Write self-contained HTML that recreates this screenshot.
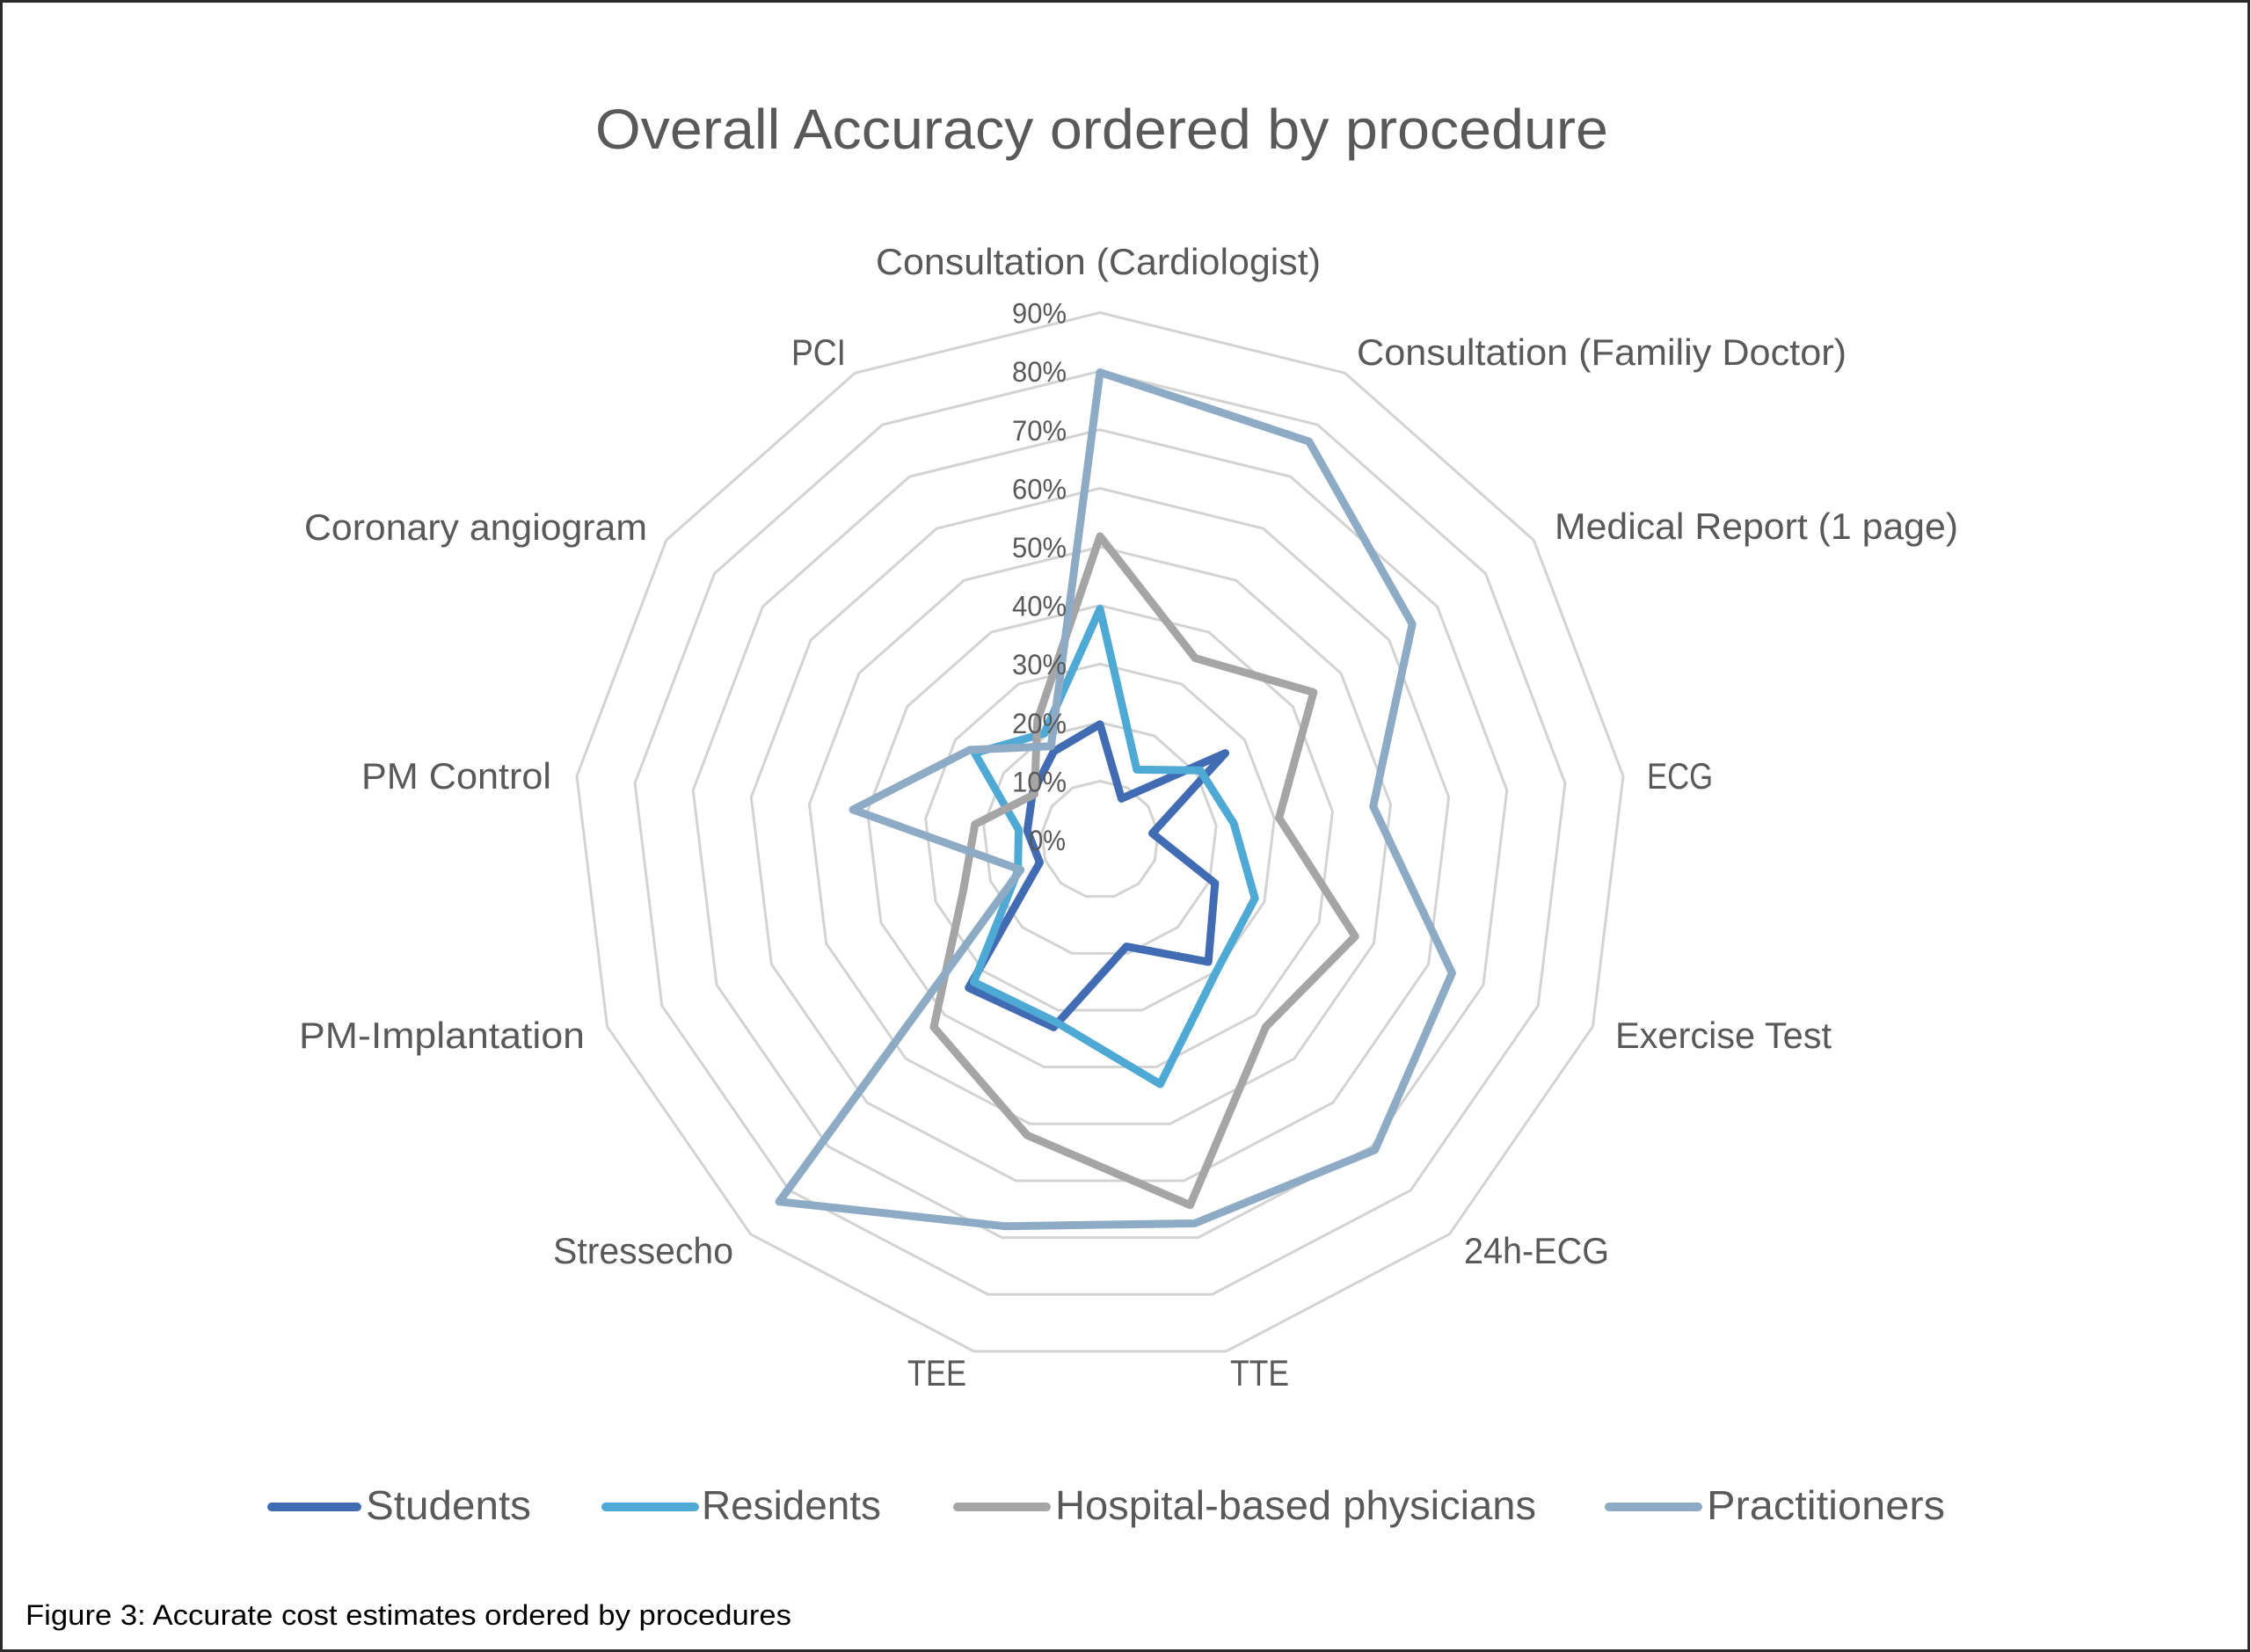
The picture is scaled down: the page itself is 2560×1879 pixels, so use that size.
<!DOCTYPE html>
<html>
<head>
<meta charset="utf-8">
<style>
  html,body{margin:0;padding:0;background:#fff;}
  svg{display:block;}
  text{font-family:"Liberation Sans", Arial, sans-serif;}
</style>
</head>
<body>
<svg width="2560" height="1879" viewBox="0 0 2560 1879" xmlns="http://www.w3.org/2000/svg">
  <rect x="0" y="0" width="2560" height="1879" fill="#ffffff"/>
  <rect x="1.5" y="1.5" width="2556" height="1876" fill="none" stroke="#2b2b2b" stroke-width="3"/>

  <!-- Title -->
  <text x="677" y="169" font-size="64" fill="#595959" textLength="1152" lengthAdjust="spacingAndGlyphs">Overall Accuracy ordered by procedure</text>

  <!-- Rings -->
  <g fill="none" stroke="#d3d3d3" stroke-width="3" stroke-linejoin="miter">
    <polygon transform="translate(1251 955) scale(0.666)" vector-effect="non-scaling-stroke" points="0,-100 46.47,-88.55 82.30,-56.81 99.27,-12.05 93.50,35.46 66.31,74.85 23.93,97.09 -23.93,97.09 -66.31,74.85 -93.50,35.46 -99.27,-12.05 -82.30,-56.81 -46.47,-88.55"/>
    <polygon transform="translate(1251 955) scale(1.332)" vector-effect="non-scaling-stroke" points="0,-100 46.47,-88.55 82.30,-56.81 99.27,-12.05 93.50,35.46 66.31,74.85 23.93,97.09 -23.93,97.09 -66.31,74.85 -93.50,35.46 -99.27,-12.05 -82.30,-56.81 -46.47,-88.55"/>
    <polygon transform="translate(1251 955) scale(1.998)" vector-effect="non-scaling-stroke" points="0,-100 46.47,-88.55 82.30,-56.81 99.27,-12.05 93.50,35.46 66.31,74.85 23.93,97.09 -23.93,97.09 -66.31,74.85 -93.50,35.46 -99.27,-12.05 -82.30,-56.81 -46.47,-88.55"/>
    <polygon transform="translate(1251 955) scale(2.664)" vector-effect="non-scaling-stroke" points="0,-100 46.47,-88.55 82.30,-56.81 99.27,-12.05 93.50,35.46 66.31,74.85 23.93,97.09 -23.93,97.09 -66.31,74.85 -93.50,35.46 -99.27,-12.05 -82.30,-56.81 -46.47,-88.55"/>
    <polygon transform="translate(1251 955) scale(3.33)" vector-effect="non-scaling-stroke" points="0,-100 46.47,-88.55 82.30,-56.81 99.27,-12.05 93.50,35.46 66.31,74.85 23.93,97.09 -23.93,97.09 -66.31,74.85 -93.50,35.46 -99.27,-12.05 -82.30,-56.81 -46.47,-88.55"/>
    <polygon transform="translate(1251 955) scale(3.996)" vector-effect="non-scaling-stroke" points="0,-100 46.47,-88.55 82.30,-56.81 99.27,-12.05 93.50,35.46 66.31,74.85 23.93,97.09 -23.93,97.09 -66.31,74.85 -93.50,35.46 -99.27,-12.05 -82.30,-56.81 -46.47,-88.55"/>
    <polygon transform="translate(1251 955) scale(4.662)" vector-effect="non-scaling-stroke" points="0,-100 46.47,-88.55 82.30,-56.81 99.27,-12.05 93.50,35.46 66.31,74.85 23.93,97.09 -23.93,97.09 -66.31,74.85 -93.50,35.46 -99.27,-12.05 -82.30,-56.81 -46.47,-88.55"/>
    <polygon transform="translate(1251 955) scale(5.328)" vector-effect="non-scaling-stroke" points="0,-100 46.47,-88.55 82.30,-56.81 99.27,-12.05 93.50,35.46 66.31,74.85 23.93,97.09 -23.93,97.09 -66.31,74.85 -93.50,35.46 -99.27,-12.05 -82.30,-56.81 -46.47,-88.55"/>
    <polygon transform="translate(1251 955) scale(5.994)" vector-effect="non-scaling-stroke" points="0,-100 46.47,-88.55 82.30,-56.81 99.27,-12.05 93.50,35.46 66.31,74.85 23.93,97.09 -23.93,97.09 -66.31,74.85 -93.50,35.46 -99.27,-12.05 -82.30,-56.81 -46.47,-88.55"/>
  </g>

  <!-- Series -->
  <g fill="none" stroke-width="9" stroke-linejoin="round" stroke-linecap="round">
    <!-- Students -->
    <polygon stroke="#416bb3" points="1251,823.8 1275.4,908.4 1393.5,856.6 1310.5,947.8 1381.8,1004.6 1374.2,1094.1 1281.0,1076.6 1198.4,1168.4 1101.7,1123.5 1182.5,981.0 1168.3,945.0 1174.3,902.1 1198.4,854.8"/>
    <!-- Residents -->
    <polygon stroke="#4fa9d5" points="1251,692.6 1292.8,875.4 1365.0,876.3 1403.1,936.5 1427.2,1021.8 1383.5,1104.6 1319.5,1233.1 1200.0,1161.9 1107.4,1117.0 1157.6,990.4 1158.5,943.8 1108.5,856.6 1187.6,834.1"/>
    <!-- Hospital-based physicians -->
    <polygon stroke="#a5a5a5" points="1251,610.0 1359.3,748.6 1493.8,787.4 1454.6,930.3 1541.2,1065.1 1439.6,1167.9 1353.5,1370.7 1168.1,1291.2 1062.0,1168.3 1095.3,1014.0 1108.8,937.7 1176.4,903.5 1179.8,819.3"/>
    <!-- Practitioners -->
    <polygon stroke="#8eabc5" points="1251,423.5 1488.7,502.1 1606.2,709.8 1561.7,917.3 1651.4,1106.8 1563.7,1307.9 1358.6,1391.5 1142.6,1394.7 886.2,1366.8 1160.7,989.3 970.0,920.9 1103.0,852.9 1195.3,848.8"/>
  </g>

  <!-- Tick labels -->
  <g font-size="32" fill="#595959">
    <text x="1170" y="967" textLength="42" lengthAdjust="spacingAndGlyphs">0%</text>
    <text x="1151" y="900.4" textLength="62" lengthAdjust="spacingAndGlyphs">10%</text>
    <text x="1151" y="833.8" textLength="62" lengthAdjust="spacingAndGlyphs">20%</text>
    <text x="1151" y="767.2" textLength="62" lengthAdjust="spacingAndGlyphs">30%</text>
    <text x="1151" y="700.6" textLength="62" lengthAdjust="spacingAndGlyphs">40%</text>
    <text x="1151" y="634" textLength="62" lengthAdjust="spacingAndGlyphs">50%</text>
    <text x="1151" y="567.4" textLength="62" lengthAdjust="spacingAndGlyphs">60%</text>
    <text x="1151" y="500.8" textLength="62" lengthAdjust="spacingAndGlyphs">70%</text>
    <text x="1151" y="434.2" textLength="62" lengthAdjust="spacingAndGlyphs">80%</text>
    <text x="1151" y="367.6" textLength="62" lengthAdjust="spacingAndGlyphs">90%</text>
  </g>

  <!-- Category labels -->
  <g font-size="42" fill="#595959">
    <text x="996" y="312" textLength="506" lengthAdjust="spacingAndGlyphs">Consultation (Cardiologist)</text>
    <text x="1543" y="415" textLength="557" lengthAdjust="spacingAndGlyphs">Consultation (Familiy Doctor)</text>
    <text x="1768" y="613" textLength="459" lengthAdjust="spacingAndGlyphs">Medical Report (1 page)</text>
    <text x="1873" y="897" textLength="75" lengthAdjust="spacingAndGlyphs">ECG</text>
    <text x="1837" y="1192" textLength="246" lengthAdjust="spacingAndGlyphs">Exercise Test</text>
    <text x="1665" y="1437" textLength="165" lengthAdjust="spacingAndGlyphs">24h-ECG</text>
    <text x="1399" y="1576" textLength="67" lengthAdjust="spacingAndGlyphs">TTE</text>
    <text x="1032" y="1576" textLength="67" lengthAdjust="spacingAndGlyphs">TEE</text>
    <text x="629" y="1437" textLength="205" lengthAdjust="spacingAndGlyphs">Stressecho</text>
    <text x="340" y="1192" textLength="325" lengthAdjust="spacingAndGlyphs">PM-Implantation</text>
    <text x="411" y="897" textLength="216" lengthAdjust="spacingAndGlyphs">PM Control</text>
    <text x="346" y="614" textLength="390" lengthAdjust="spacingAndGlyphs">Coronary angiogram</text>
    <text x="900" y="415" textLength="62" lengthAdjust="spacingAndGlyphs">PCI</text>
  </g>

  <!-- Legend -->
  <g stroke-width="10" stroke-linecap="round">
    <line x1="309" y1="1714" x2="406" y2="1714" stroke="#416bb3"/>
    <line x1="689" y1="1714" x2="790" y2="1714" stroke="#4fa9d5"/>
    <line x1="1089" y1="1714" x2="1190" y2="1714" stroke="#a5a5a5"/>
    <line x1="1830" y1="1714" x2="1931" y2="1714" stroke="#8eabc5"/>
  </g>
  <g font-size="46" fill="#595959">
    <text x="416" y="1728" textLength="188" lengthAdjust="spacingAndGlyphs">Students</text>
    <text x="798" y="1728" textLength="204" lengthAdjust="spacingAndGlyphs">Residents</text>
    <text x="1200" y="1728" textLength="547" lengthAdjust="spacingAndGlyphs">Hospital-based physicians</text>
    <text x="1941" y="1728" textLength="271" lengthAdjust="spacingAndGlyphs">Practitioners</text>
  </g>

  <!-- Caption -->
  <text x="29" y="1848" font-size="32" fill="#000000" textLength="871" lengthAdjust="spacingAndGlyphs">Figure 3: Accurate cost estimates ordered by procedures</text>
</svg>
</body>
</html>
